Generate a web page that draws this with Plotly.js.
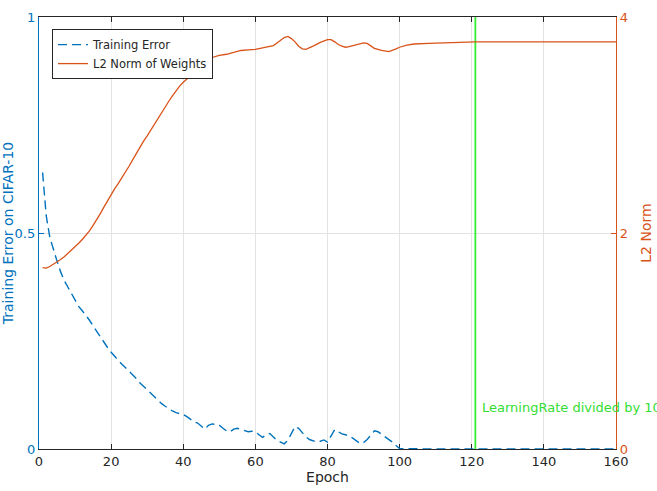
<!DOCTYPE html>
<html>
<head>
<meta charset="utf-8">
<script src="https://cdn.plot.ly/plotly-3.0.1.min.js"></script>
<style>
  html, body { margin: 0; padding: 0; background: #fff; }
  #chart { width: 657px; height: 491px; }
</style>
</head>
<body>
<div id="chart"></div>
<script>
// Training error per epoch (left axis, fraction)
const errEpochs = [1,2,3,4,5,6,7,8,9,10,11,12,13,14,15,16,17,18,19,20,
  21,22,23,24,25,26,27,28,29,30,31,32,33,34,35,36,37,38,39,40,
  41,42,43,44,45,46,47,48,49,50,51,52,53,54,55,56,57,58,59,60,
  61,62,63,64,65,66,67,68,69,70,71,72,73,74,75,76,77,78,79,80,
  81,82,83,84,85,86,87,88,89,90,91,92,93,94,95,96,97,98,99,100,
  110,120,130,140,150,160];
const trainError = [0.64,0.54,0.49,0.46,0.435,0.41,0.39,0.375,0.36,0.345,
  0.33,0.32,0.31,0.298,0.285,0.272,0.258,0.246,0.235,0.224,
  0.214,0.205,0.196,0.188,0.18,0.172,0.163,0.153,0.145,0.137,
  0.128,0.12,0.112,0.105,0.099,0.093,0.088,0.084,0.082,0.08,
  0.075,0.068,0.063,0.06,0.052,0.046,0.055,0.058,0.057,0.055,
  0.048,0.042,0.04,0.046,0.048,0.045,0.042,0.04,0.041,0.04,
  0.033,0.027,0.033,0.036,0.028,0.02,0.016,0.012,0.02,0.038,
  0.052,0.048,0.038,0.028,0.022,0.019,0.016,0.018,0.021,0.016,
  0.03,0.045,0.04,0.035,0.033,0.03,0.025,0.02,0.013,0.015,
  0.022,0.032,0.042,0.04,0.034,0.028,0.023,0.016,0.008,0.001,
  0,0,0,0,0,0];

// L2 norm of the weights per epoch (right axis)
const normEpochs = [1,2,3,4,5,6,7,8,9,10,11,12,13,14,15,16,17,18,19,20,
  21,22,23,24,25,26,27,28,29,30,31,32,33,34,35,36,37,38,39,40,
  41,42,43,44,45,46,47,48,49,50,52,54,56,58,60,62,64,65,66,67,
  68,69,70,71,72,73,74,76,78,80,81,82,83,84,85,86,88,90,91,92,
  93,95,97,99,100,102,104,108,114,120,121,130,140,150,160];
const l2Norm = [1.68,1.675,1.69,1.71,1.73,1.755,1.78,1.81,1.84,1.87,
  1.905,1.94,1.975,2.02,2.07,2.12,2.18,2.24,2.3,2.355,
  2.41,2.46,2.51,2.56,2.62,2.68,2.74,2.795,2.85,2.9,
  2.955,3.01,3.065,3.12,3.17,3.22,3.27,3.32,3.36,3.395,
  3.425,3.45,3.48,3.51,3.54,3.57,3.6,3.625,3.635,3.645,
  3.655,3.675,3.69,3.695,3.7,3.715,3.73,3.735,3.76,3.785,
  3.81,3.82,3.8,3.77,3.73,3.705,3.7,3.73,3.765,3.79,
  3.79,3.77,3.745,3.73,3.72,3.725,3.745,3.76,3.755,3.735,
  3.71,3.69,3.68,3.705,3.72,3.74,3.75,3.756,3.762,3.768,
  3.769,3.769,3.769,3.769,3.769];

// Epoch at which the learning rate was reduced
const lrDropEpoch = 121;
const lrDropLabel = 'LearningRate divided by 10';

const BLUE = '#0072BD';
const ORANGE = '#D95319';
const GREEN = '#33ee33';
const AXIS = '#262626';
const FONT = 'DejaVu Sans, sans-serif';

const traces = [
  {
    x: errEpochs, y: trainError, yaxis: 'y',
    type: 'scatter', mode: 'lines', name: 'Training Error',
    line: {color: BLUE, width: 1.4, dash: '9px,5px'}
  },
  {
    x: normEpochs, y: l2Norm, yaxis: 'y2',
    type: 'scatter', mode: 'lines', name: 'L2 Norm of Weights',
    line: {color: ORANGE, width: 1.3}
  },
  {
    x: [lrDropEpoch, lrDropEpoch], y: [0, 1], yaxis: 'y',
    type: 'scatter', mode: 'lines', showlegend: false, hoverinfo: 'skip',
    line: {color: GREEN, width: 1.8}
  }
];

const layout = {
  width: 657, height: 491,
  margin: {l: 39, r: 41, t: 17, b: 42},
  paper_bgcolor: '#fff', plot_bgcolor: '#fff',
  font: {family: FONT, size: 13, color: AXIS},
  showlegend: true,
  legend: {
    x: 0.0225, y: 0.972, xanchor: 'left', yanchor: 'top',
    bgcolor: '#fff', bordercolor: AXIS, borderwidth: 1,
    font: {family: FONT, size: 11.5, color: AXIS},
    tracegroupgap: 0, itemwidth: 30
  },
  xaxis: {
    range: [0, 160], dtick: 20, tick0: 0,
    showline: true, linecolor: AXIS, linewidth: 1, mirror: 'ticks',
    ticks: 'inside', ticklen: 5, tickcolor: AXIS,
    showgrid: true, gridcolor: '#e3e3e3', gridwidth: 1,
    zeroline: false, layer: 'below traces',
    tickfont: {family: FONT, size: 13, color: AXIS},
    title: {text: 'Epoch', font: {family: FONT, size: 14, color: AXIS}, standoff: 0}
  },
  yaxis: {
    range: [0, 1], tickvals: [0, 0.5, 1], ticktext: ['0', '0.5', '1'],
    showline: true, linecolor: BLUE, linewidth: 1.2,
    ticks: 'inside', ticklen: 5, tickcolor: BLUE,
    showgrid: true, gridcolor: '#e3e3e3', zeroline: false,
    tickfont: {family: FONT, size: 13, color: BLUE},
    title: {text: 'Training Error on CIFAR-10', font: {family: FONT, size: 14, color: BLUE}, standoff: 11}
  },
  yaxis2: {
    overlaying: 'y', side: 'right',
    range: [0, 4], tickvals: [0, 2, 4],
    showline: true, linecolor: ORANGE, linewidth: 1.2,
    ticks: 'inside', ticklen: 5, tickcolor: ORANGE,
    showgrid: false, zeroline: false,
    tickfont: {family: FONT, size: 13, color: ORANGE},
    title: {text: 'L2 Norm', font: {family: FONT, size: 14, color: ORANGE}, standoff: 14}
  },
  annotations: [{
    x: lrDropEpoch + 1.4, y: 0.097, xref: 'x', yref: 'y',
    xanchor: 'left', yanchor: 'middle', showarrow: false,
    text: lrDropLabel,
    font: {family: FONT, size: 13, color: '#33dd33'}
  }]
};

Plotly.newPlot('chart', traces, layout, {displayModeBar: false, staticPlot: true});
</script>
</body>
</html>
